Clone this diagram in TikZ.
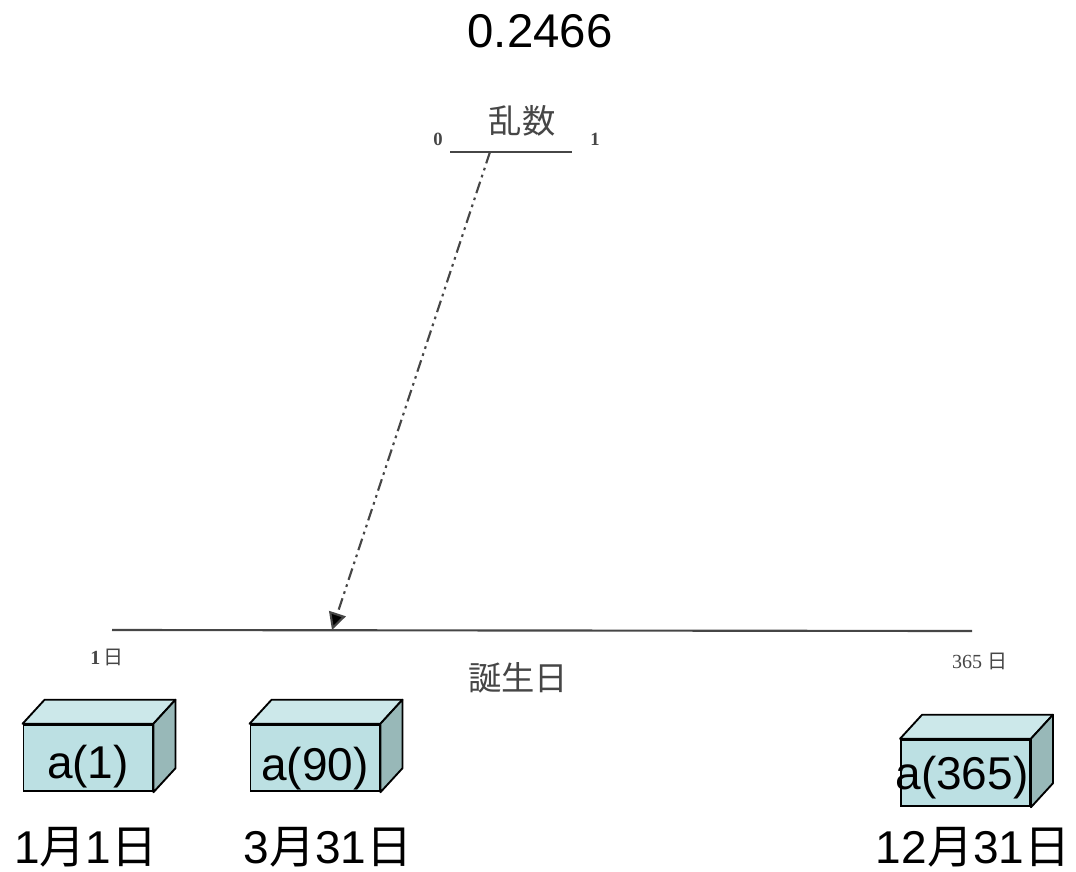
\documentclass[tikz,border=0pt]{standalone}
\usepackage{fontspec}
\setmainfont{Liberation Sans}
\newfontfamily\cjk{Noto Sans CJK JP}
\newfontfamily\scanrm{Liberation Serif}
\usetikzlibrary{arrows.meta,calc}
\definecolor{frontc}{RGB}{188,224,227}
\definecolor{topc}{RGB}{204,232,234}
\definecolor{sidec}{RGB}{152,184,184}
\definecolor{scan}{RGB}{70,70,70}
\tikzset{
  boxface/.style={draw=black, line width=1.4pt, fill=frontc, minimum width=96.75pt, minimum height=50pt, inner sep=0pt},
  boxtext/.style={inner sep=0pt, font=\fontsize{34.5pt}{36pt}\selectfont},
  boxlabel/.style={font=\fontsize{34.5pt}{36pt}\selectfont, inner sep=0pt},
  scantext/.style={text=scan, inner sep=0pt},
  scanline/.style={draw=scan, line width=1.6pt},
  randarrow/.style={draw=scan, line width=1.6pt, dash pattern=on 9pt off 3.5pt on 2pt off 3.5pt on 2pt off 3.5pt, -{Triangle[length=13pt,width=13pt,fill=black]}},
}
\newcommand\mycube[1]{%
  \draw[line width=1.4pt, fill=topc, line join=round] (#1.north west) -- ($(#1.north west)+(22,-24)$) -- ($(#1.north east)+(22,-24)$) -- (#1.north east) -- cycle;
  \draw[line width=1.4pt, fill=sidec, line join=round] (#1.north east) -- ($(#1.north east)+(22,-24)$) -- ($(#1.south east)+(22,-24)$) -- (#1.south east) -- cycle;
}
\begin{document}
\begin{tikzpicture}[x=0.75pt,y=-0.75pt]
\useasboundingbox (0,0) rectangle (1076,872);
% title value
\node[inner sep=0pt, font=\fontsize{35.5pt}{37pt}\selectfont] (val) at (540,31) {0.2466};
% random number scale
\coordinate (r0) at (450,152);
\coordinate (r1) at (572,152);
\draw[scanline] (r0) -- (r1);
\node[scantext, font=\cjk\fontsize{25pt}{27pt}\selectfont] (rand) at (522,121) {乱数};
\node[scantext, font=\scanrm\bfseries\fontsize{14pt}{16pt}\selectfont] (z0) at (438,139) {0};
\node[scantext, font=\scanrm\bfseries\fontsize{14pt}{16pt}\selectfont] (z1) at (595,139) {1};
% birthday scale
\coordinate (b0) at (112,630);
\coordinate (b1) at (972,631);
\draw[scanline] (b0) -- (b1);
\node[scantext, font=\fontsize{15pt}{17pt}\selectfont] (d1) at (107,657) {{\scanrm\bfseries 1}\,{\cjk 日}};
\node[scantext, font=\fontsize{15pt}{17pt}\selectfont] (d365) at (980,661) {{\scanrm 365} {\cjk 日}};
\node[scantext, font=\cjk\fontsize{25pt}{27pt}\selectfont] (bday) at (518,678) {誕生日};
% arrow
\coordinate (rp) at (490,152);
\coordinate (bp) at (332,630);
\draw[randarrow] (rp) -- (bp);
% boxes
\node[boxface] (a1) at (88,758) {};
\mycube{a1}
\node[boxtext] (t1) at (88,767) {a(1)};
\node[boxface] (a90) at (315,758) {};
\mycube{a90}
\node[boxtext] (t90) at (315,769) {a(90)};
\node[boxface] (a365) at (965.5,773) {};
\mycube{a365}
\node[boxtext] (t365) at (962,778) {a(365)};
% labels
\node[boxlabel] (l1) at (86,847) {1{\cjk 月}1{\cjk 日}};
\node[boxlabel] (l90) at (328,847) {3{\cjk 月}31{\cjk 日}};
\node[boxlabel] (l365) at (973,847) {12{\cjk 月}31{\cjk 日}};
\end{tikzpicture}
\end{document}
